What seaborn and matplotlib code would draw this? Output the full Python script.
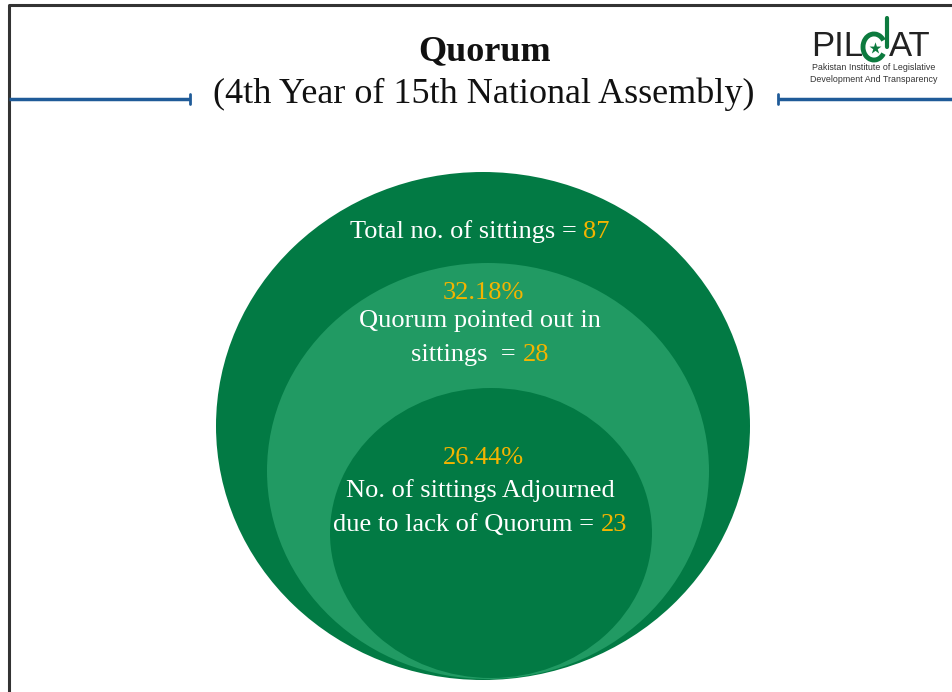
import matplotlib
matplotlib.use("Agg")
import matplotlib.pyplot as plt
from matplotlib.patches import Ellipse, Arc
import seaborn as sns

# ---- data ----
labels = ["Total no. of sittings", "Quorum pointed out in\nsittings ", "No. of sittings Adjourned\ndue to lack of Quorum"]
counts = [87, 28, 23]
percents = [None, "32.18%", "26.44%"]
title = "Quorum"
subtitle = "(4th Year of 15th National Assembly)"

sns.set_theme(style="white")
plt.rcParams["font.family"] = ["Liberation Serif", "DejaVu Serif"]

W, H = 952, 692
fig = plt.figure(figsize=(W / 100, H / 100), dpi=100)
ax = fig.add_axes([0, 0, 1, 1])
ax.set_xlim(0, W)
ax.set_ylim(H, 0)
ax.axis("off")

DARK = "#027a44"
LIGHT = "#219a63"
GOLD = "#f4b400"
BLUE = "#1f5b98"
LOGO_G = "#0c7a3e"

# frame
ax.plot([8.5, 8.5, W], [H, 5, 5], color="#333333", lw=2.2, solid_capstyle="butt", zorder=1)
# blue rules
ax.plot([9, 190], [99, 99], color=BLUE, lw=2.5, solid_capstyle="butt")
ax.plot([190, 190], [94, 104], color=BLUE, lw=2)
ax.plot([778, W], [99, 99], color=BLUE, lw=2.5, solid_capstyle="butt")
ax.plot([778, 778], [94, 104], color=BLUE, lw=2)

# titles
ax.text(485, 52, title, ha="center", va="center", fontsize=26, fontweight="bold", color="#111111")
ax.text(484, 94, subtitle, ha="center", va="center", fontsize=26, color="#111111")

# ellipses (outer, middle, inner)
shapes = [((483, 426), 534, 508, DARK), ((488, 471), 442, 416, LIGHT), ((491, 533), 322, 290, DARK)]
for (c, w, h, col) in shapes:
    ax.add_patch(Ellipse(c, w, h, facecolor=col, edgecolor="none", zorder=2))

renderer = fig.canvas.get_renderer()
FS = 19


def rich_line(x, y, prefix, number):
    full = ax.text(x, y, prefix + number, fontsize=FS, ha="center", va="center", alpha=0)
    bb = full.get_window_extent(renderer)
    full.remove()
    wpx = bb.width
    ax.text(x - wpx / 2, y, prefix, fontsize=FS, ha="left", va="center", color="white", zorder=5)
    ax.text(x + wpx / 2, y, number, fontsize=FS, ha="right", va="center", color=GOLD, zorder=5)


# outer label
rich_line(480, 232, labels[0] + " = ", str(counts[0]))
# middle
ax.text(483, 293, percents[1], fontsize=FS, ha="center", va="center", color=GOLD, zorder=5)
l1, l2 = labels[1].split("\n")
ax.text(480, 321, l1, fontsize=FS, ha="center", va="center", color="white", zorder=5)
rich_line(480, 355, l2 + " = ", str(counts[1]))
# inner
ax.text(483, 458, percents[2], fontsize=FS, ha="center", va="center", color=GOLD, zorder=5)
l1, l2 = labels[2].split("\n")
ax.text(480, 491, l1, fontsize=FS, ha="center", va="center", color="white", zorder=5)
rich_line(480, 525, l2 + " = ", str(counts[2]))

# logo
lsans = ["Liberation Sans", "DejaVu Sans"]
ax.text(811, 47, "PIL", fontsize=25, family=lsans, color="#222222", ha="left", va="center")
ax.add_patch(Arc((874, 47), 22, 26, theta1=35, theta2=325, color=LOGO_G, lw=3.5, zorder=6))
ax.scatter([875], [48], marker="*", s=80, color=LOGO_G, zorder=6, linewidths=0)
ax.plot([886.5, 886.5], [18, 47], color=LOGO_G, lw=3)
ax.text(889, 47, "AT", fontsize=25, family=lsans, color="#222222", ha="left", va="center")
ax.text(874, 68, "Pakistan Institute of Legislative", fontsize=6.4, family=lsans, color="#333333",
        ha="center", va="center")
ax.text(874, 80, "Development And Transparency", fontsize=6.4, family=lsans, color="#333333",
        ha="center", va="center")

fig.savefig("out.png", dpi=100)
